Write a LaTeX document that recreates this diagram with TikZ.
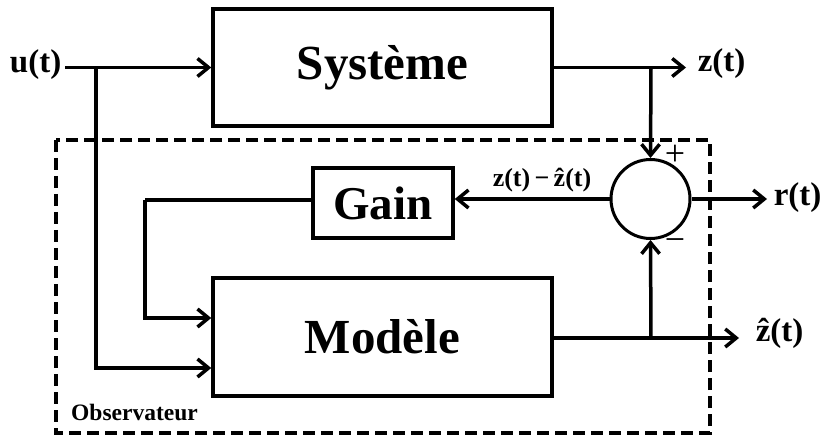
\documentclass[tikz,border=0pt]{standalone}
\usepackage{fontspec}
\setmainfont{Liberation Serif}
\usetikzlibrary{arrows.meta,calc}
\begin{document}
\begin{tikzpicture}[x=1pt,y=-1pt,
  line width=3.5pt,
  blk/.style={draw,rectangle,inner sep=0pt,line width=3.5pt,font=\fontsize{49}{50}\selectfont\bfseries},
  sumc/.style={draw,circle,inner sep=0pt,minimum size=79pt,line width=3pt},
  sig/.style={font=\fontsize{33}{34}\selectfont\bfseries,inner sep=0pt},
  sgn/.style={font=\fontsize{36}{36}\selectfont,inner sep=0pt},
  arr/.style={-{Straight Barb[length=11pt,width=18pt]}},
  obsbox/.style={draw,dash pattern=on 12pt off 6pt,line width=3.5pt}]
\useasboundingbox (0,0) rectangle (824,438);
% dashed observer frame
\draw[obsbox] (56,140) rectangle (710,433);
\node[font=\fontsize{23.5}{24}\selectfont\bfseries,inner sep=0pt] (obs) at (134.5,412) {Observateur};
% blocks
\node[blk,minimum width=339pt,minimum height=117pt] (sys) at (382.5,67.5) {Système};
\node[blk,minimum width=339pt,minimum height=118pt] (mod) at (382.5,337) {Modèle};
\node[blk,minimum width=140pt,minimum height=70pt,font=\fontsize{47}{48}\selectfont\bfseries] (gain) at (383,203) {Gain};
\node[sumc] (sum) at (650.5,199) {};
% signal labels
\node[sig,anchor=east] (u) at (63,65) {u(t)};
\node[sig,anchor=west] (z) at (696,64) {z(t)};
\node[sig,anchor=west] (r) at (772,198) {r(t)};
\node[sig,anchor=west] (zh) at (754,333) {\^{z}(t)};
\node[font=\fontsize{26}{26}\selectfont\bfseries,inner sep=0pt] (err) at (542,180) {z(t)\,−\,\^{z}(t)};
\node[sgn] (plus) at (675,155) {+};
\node[sgn] (minus) at (675,245) {−};
% coordinates
\coordinate (uin) at (65,67.5);
\coordinate (ub) at (96,67.5);
\coordinate (zend) at (686,67.5);
\coordinate (zb) at (651,67.5);
\coordinate (rend) at (767,199);
\coordinate (zhend) at (739,338);
\coordinate (zhb) at (651,338);
\coordinate (fb) at (145,200);
% connectors
\draw[arr] (uin) -- (sys.west);
\draw[arr] (ub) |- ([yshift=-31pt]mod.west);
\draw[arr] (sys.east) -- (zend);
\draw[arr] (zb) -- (sum.north);
\draw[arr] (sum.west) -- (gain.east |- sum.west);
\draw (gain.west |- fb) -- (fb);
\draw[arr] (fb) |- ([yshift=19pt]mod.west);
\draw[arr] (sum.east) -- (rend);
\draw[arr] (mod.east |- zhend) -- (zhend);
\draw[arr] (zhb) -- (sum.south);
\end{tikzpicture}
\end{document}
